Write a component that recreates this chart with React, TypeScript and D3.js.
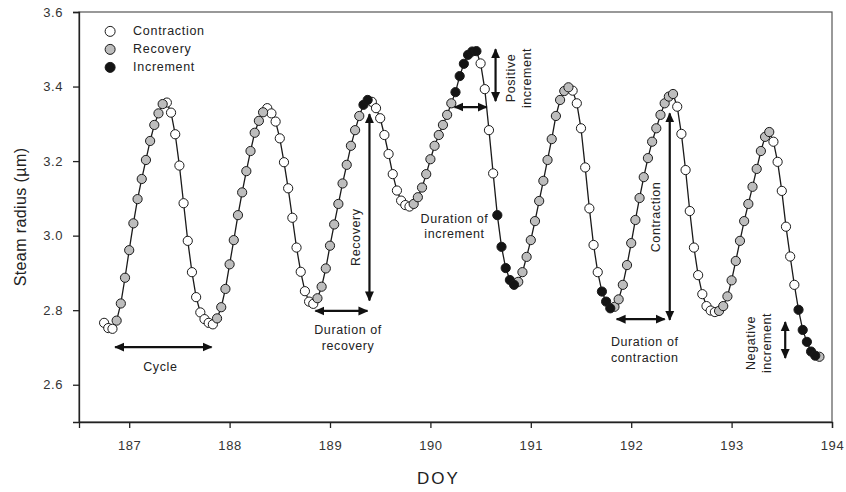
import React, { useRef, useEffect } from 'react'
import * as d3 from 'd3'

// hourly stem radius readings, first sample at DOY 186.75
const START_DOY = 186.75
const STEP = 1 / 24

const radius = [
  2.766, 2.752, 2.75, 2.772, 2.818, 2.887, 2.961, 3.033, 3.098, 3.152, 3.203, 3.254,
  3.297, 3.328, 3.353, 3.357, 3.33, 3.272, 3.188, 3.087, 2.986, 2.902, 2.835, 2.794,
  2.776, 2.766, 2.762, 2.778, 2.808, 2.857, 2.923, 2.988, 3.055, 3.116, 3.173, 3.227,
  3.276, 3.308, 3.331, 3.342, 3.328, 3.306, 3.261, 3.197, 3.127, 3.048, 2.968, 2.903,
  2.851, 2.823, 2.817, 2.832, 2.863, 2.912, 2.973, 3.03, 3.085, 3.14, 3.19, 3.241,
  3.283, 3.321, 3.351, 3.364, 3.359, 3.342, 3.315, 3.27, 3.219, 3.165, 3.121, 3.094,
  3.082, 3.078, 3.085, 3.103, 3.129, 3.165, 3.205, 3.241, 3.27, 3.297, 3.324, 3.355,
  3.385, 3.428, 3.461, 3.485, 3.494, 3.495, 3.462, 3.393, 3.283, 3.167, 3.055, 2.97,
  2.913, 2.881, 2.868, 2.876, 2.902, 2.943, 2.988, 3.039, 3.093, 3.147, 3.203, 3.259,
  3.321, 3.364, 3.388, 3.398, 3.389, 3.355, 3.288, 3.183, 3.073, 2.975, 2.902, 2.85,
  2.823, 2.805, 2.809, 2.829, 2.868, 2.921, 2.98, 3.042, 3.101, 3.157, 3.208, 3.252,
  3.288, 3.324, 3.355, 3.373, 3.38, 3.346, 3.273, 3.176, 3.066, 2.968, 2.894, 2.843,
  2.811, 2.799, 2.795, 2.798, 2.811, 2.837, 2.88, 2.932, 2.986, 3.039, 3.085, 3.131,
  3.179, 3.227, 3.265, 3.278, 3.252, 3.198, 3.12, 3.024, 2.944, 2.868, 2.801, 2.747,
  2.715, 2.689, 2.678, 2.675,
]

// C = contraction, R = recovery, I = increment
const phase = (
  'CCCRRRRRRRRRRRRCCCCCCCCCCCCRRRRRRRRRRRRCCCCCCCCCCCC' +
  'RRRRRRRRRRRIICCCCCCCCCCRRRRRRRRRRIIIIIICCCCIIIII' +
  'RRRRRRRRRRRRRCCCCCCCIIIRRRRRRRRRRRRRRRCCCCCCCCCC' +
  'RRRRRRRRRRRRRCCCCCCIIIIIR'
).split('')

const legendItems = [
  { key: 'C', label: 'Contraction' },
  { key: 'R', label: 'Recovery' },
  { key: 'I', label: 'Increment' },
]

const xTicks = [187, 188, 189, 190, 191, 192, 193, 194]
const yTicks = [2.6, 2.8, 3.0, 3.2, 3.4, 3.6]

// [doy from, doy to, value from, value to]
const arrows = [
  [186.86, 187.82, 2.701, 2.701],
  [188.855, 189.373, 2.798, 2.798],
  [189.393, 189.393, 3.326, 2.826],
  [190.649, 190.649, 3.5, 3.361],
  [190.24, 190.56, 3.345, 3.345],
  [192.384, 192.384, 3.328, 2.774],
  [191.855, 192.333, 2.776, 2.776],
  [193.534, 193.534, 2.768, 2.672],
]

// [doy, value, text, rotated]
const notes: [number, number, string, boolean][] = [
  [187.31, 2.645, 'Cycle', false],
  [189.18, 2.744, 'Duration of', false],
  [189.18, 2.701, 'recovery', false],
  [189.263, 2.996, 'Recovery', true],
  [190.806, 3.423, 'Positive', true],
  [190.966, 3.423, 'increment', true],
  [190.24, 3.042, 'Duration of', false],
  [190.24, 3.002, 'increment', false],
  [192.254, 3.05, 'Contraction', true],
  [192.135, 2.712, 'Duration of', false],
  [192.135, 2.669, 'contraction', false],
  [193.2, 2.712, 'Negative', true],
  [193.355, 2.712, 'increment', true],
]

const fillOf: Record<string, string> = { C: '#ffffff', R: '#bdbdbd', I: '#141414' }
const FONT = '"Liberation Sans", Arial, sans-serif'

const App = () => {
  const svgRef = useRef<SVGSVGElement>(null)

  useEffect(() => {
    const svg = d3.select(svgRef.current)
    svg.selectAll('*').remove()

    const width = 846
    const height = 492
    const margin = { top: 12, right: 14, bottom: 70, left: 79 }

    const x = d3.scaleLinear().domain([186.5, 194]).range([margin.left, width - margin.right])
    const y = d3.scaleLinear().domain([2.5, 3.6]).range([height - margin.bottom, margin.top])

    const data = radius.map((v, i) => ({ doy: START_DOY + i * STEP, v, p: phase[i] }))

    const defs = svg.append('defs')
    defs
      .append('marker')
      .attr('id', 'head')
      .attr('viewBox', '0 0 10 10')
      .attr('refX', 9)
      .attr('refY', 5)
      .attr('markerUnits', 'userSpaceOnUse')
      .attr('markerWidth', 10)
      .attr('markerHeight', 10)
      .attr('orient', 'auto-start-reverse')
      .append('path')
      .attr('d', 'M0,0.5 L10,5 L0,9.5 Z')
      .attr('fill', '#111')

    // frame
    svg
      .append('rect')
      .attr('x', margin.left)
      .attr('y', margin.top)
      .attr('width', width - margin.right - margin.left)
      .attr('height', height - margin.bottom - margin.top)
      .attr('fill', 'none')
      .attr('stroke', '#555')
      .attr('stroke-width', 1.2)

    // axes
    const xAxis = svg
      .append('g')
      .attr('transform', `translate(0, ${height - margin.bottom})`)
      .call(d3.axisBottom(x).tickValues(xTicks).tickFormat(d3.format('d')).tickSize(6).tickPadding(13))
    const yAxis = svg
      .append('g')
      .attr('transform', `translate(${margin.left}, 0)`)
      .call(d3.axisLeft(y).tickValues(yTicks).tickFormat(d3.format('.1f')).tickSize(6).tickPadding(10))
    ;[xAxis, yAxis].forEach(g => {
      g.selectAll('path, line').attr('stroke', '#222').attr('stroke-width', 1.3)
      g.selectAll('text')
        .attr('fill', '#333')
        .style('font-family', FONT)
        .style('font-size', '13px')
        .style('letter-spacing', '0.6px')
    })

    // axis titles
    svg
      .append('text')
      .attr('transform', `translate(22, ${y(3.05)}) rotate(-90)`)
      .attr('text-anchor', 'middle')
      .attr('dominant-baseline', 'middle')
      .attr('fill', '#222')
      .style('font-family', FONT)
      .style('font-size', '16px')
      .style('letter-spacing', '0.4px')
      .text('Steam radius (\u00b5m)')
    svg
      .append('text')
      .attr('x', x(190.08))
      .attr('y', 484)
      .attr('text-anchor', 'middle')
      .attr('fill', '#222')
      .style('font-family', FONT)
      .style('font-size', '17px')
      .style('letter-spacing', '2px')
      .text('DOY')

    // series line
    const line = d3
      .line<{ doy: number; v: number }>()
      .x(d => x(d.doy))
      .y(d => y(d.v))
    svg
      .append('path')
      .datum(data)
      .attr('d', line)
      .attr('fill', 'none')
      .attr('stroke', '#1a1a1a')
      .attr('stroke-width', 1.3)

    // points, one layer per phase
    ;['C', 'R', 'I'].forEach(k => {
      svg
        .append('g')
        .selectAll('circle')
        .data(data.filter(d => d.p === k))
        .enter()
        .append('circle')
        .attr('cx', d => x(d.doy))
        .attr('cy', d => y(d.v))
        .attr('r', 4.6)
        .attr('fill', fillOf[k])
        .attr('stroke', '#1a1a1a')
        .attr('stroke-width', 1)
    })

    // annotation arrows
    svg
      .append('g')
      .selectAll('line')
      .data(arrows)
      .enter()
      .append('line')
      .attr('x1', d => x(d[0]))
      .attr('x2', d => x(d[1]))
      .attr('y1', d => y(d[2]))
      .attr('y2', d => y(d[3]))
      .attr('stroke', '#111')
      .attr('stroke-width', 2.2)
      .attr('marker-start', 'url(#head)')
      .attr('marker-end', 'url(#head)')

    // annotation text
    svg
      .append('g')
      .selectAll('text')
      .data(notes)
      .enter()
      .append('text')
      .attr('transform', d => `translate(${x(d[0])}, ${y(d[1])})${d[3] ? ' rotate(-90)' : ''}`)
      .attr('text-anchor', 'middle')
      .attr('dominant-baseline', 'middle')
      .attr('fill', '#222')
      .style('font-family', FONT)
      .style('font-size', '12.5px')
      .style('letter-spacing', '0.6px')
      .text(d => d[2])

    // legend
    const legend = svg.append('g').attr('transform', `translate(${x(186.81)}, ${y(3.548)})`)
    legendItems.forEach((item, i) => {
      legend
        .append('circle')
        .attr('cx', 0)
        .attr('cy', i * 18)
        .attr('r', 5)
        .attr('fill', fillOf[item.key])
        .attr('stroke', '#1a1a1a')
        .attr('stroke-width', 1)
      legend
        .append('text')
        .attr('x', 23)
        .attr('y', i * 18)
        .attr('dominant-baseline', 'middle')
        .attr('fill', '#222')
        .style('font-family', FONT)
        .style('font-size', '12.5px')
        .style('letter-spacing', '0.7px')
        .text(item.label)
    })
  }, [])

  return (
    <svg
      ref={svgRef}
      width={846}
      height={492}
      style={{ position: 'absolute', left: 0, top: 0, background: '#fff' }}
    />
  )
}

export default App
